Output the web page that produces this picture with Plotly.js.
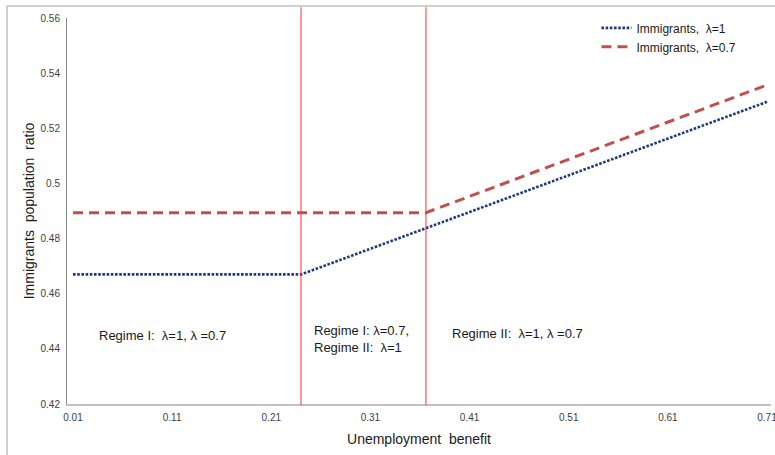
<!DOCTYPE html>
<html>
<head>
<meta charset="utf-8">
<script src="https://cdn.plot.ly/plotly-3.0.1.min.js"></script>
<style>html,body{margin:0;padding:0;background:#fff;}#chart{width:775px;height:455px;}</style>
</head>
<body>
<div id="chart"></div>
<script>
// Data
const blueX = [0.01, 0.24, 0.31, 0.41, 0.51, 0.61, 0.71];
const blueY = [0.467, 0.467, 0.4763, 0.4896, 0.5029, 0.5162, 0.5296];
const redX = [0.01, 0.366, 0.41, 0.51, 0.61, 0.71];
const redY = [0.4894, 0.4894, 0.4953, 0.5088, 0.5222, 0.5357];
const regimeLines = [0.24, 0.366];
const xTickVals = [0.01, 0.11, 0.21, 0.31, 0.41, 0.51, 0.61, 0.71];
const xTickText = ['0.01', '0.11', '0.21', '0.31', '0.41', '0.51', '0.61', '0.71'];
const seriesNames = ['Immigrants,\u00a0 \u03bb=1', 'Immigrants,\u00a0 \u03bb=0.7'];
const regimeLabels = [
  {x: 0.0345, y: 0.4447, text: 'Regime I:\u00a0 \u03bb=1, \u03bb =0.7'},
  {x: 0.2515, y: 0.4436, text: 'Regime I: \u03bb=0.7,<br>Regime II:\u00a0 \u03bb=1'},
  {x: 0.3905, y: 0.4454, text: 'Regime II:\u00a0 \u03bb=1, \u03bb =0.7'}
];

const FONT = 'Arial, "Liberation Sans", sans-serif';

const traces = [
  {x: blueX, y: blueY, name: seriesNames[0], mode: 'lines', type: 'scatter',
   line: {color: '#1f3a7a', width: 2.6, dash: '2.6px,1.6px'}},
  {x: redX, y: redY, name: seriesNames[1], mode: 'lines', type: 'scatter',
   line: {color: '#c0504d', width: 3, dash: '10px,6px'}}
];

const shapes = regimeLines.map(v => ({
  type: 'line', xref: 'x', yref: 'paper', x0: v, x1: v, y0: -0.003, y1: 1.028,
  line: {color: 'rgb(255,50,50)', width: 1}
}));
// outer frame (left and top edges)
shapes.push({type: 'line', xref: 'paper', yref: 'paper', x0: -0.0852, x1: -0.0852, y0: 1.0311, y1: -0.2,
  line: {color: '#a0a0a0', width: 1}});
shapes.push({type: 'line', xref: 'paper', yref: 'paper', x0: -0.0852, x1: 1.05, y0: 1.0311, y1: 1.0311,
  line: {color: '#a0a0a0', width: 1}});

const annotations = regimeLabels.map(r => ({
  x: r.x, y: r.y, xref: 'x', yref: 'y', text: r.text, showarrow: false,
  xanchor: 'left', yanchor: 'middle', align: 'left',
  font: {family: FONT, size: 13, color: '#1a1a1a'}
}));

const layout = {
  width: 775, height: 455,
  margin: {l: 67, r: 4, t: 18, b: 51, pad: 0},
  paper_bgcolor: '#fff', plot_bgcolor: '#fff',
  font: {family: FONT, size: 10, color: '#404040'},
  showlegend: true,
  legend: {x: 0.752, y: 1.012, xanchor: 'left', yanchor: 'top', bgcolor: 'rgba(0,0,0,0)',
    font: {family: FONT, size: 12, color: '#1a1a1a'}, tracegroupgap: 0, itemwidth: 30},
  xaxis: {
    range: [0.00395, 0.71403], tickmode: 'array', tickvals: xTickVals, ticktext: xTickText,
    showgrid: false, zeroline: false, showline: true, linecolor: '#c0c0c0', linewidth: 1.5,
    ticks: '', ticklabeloverflow: 'allow', ticklabelstandoff: 3,
    tickfont: {family: FONT, size: 10, color: '#404040'},
    title: {text: 'Unemployment\u00a0 benefit', font: {family: FONT, size: 14, color: '#1a1a1a'}, standoff: 12}
  },
  yaxis: {
    range: [0.42, 0.56], tickmode: 'linear', tick0: 0.42, dtick: 0.02,
    showgrid: false, zeroline: false, showline: true, linecolor: '#888', linewidth: 1,
    ticks: '', ticklen: 0, ticklabelstandoff: 4, ticklabeloverflow: 'allow',
    tickfont: {family: FONT, size: 10, color: '#404040'},
    title: {text: 'Immigrants\u00a0 population\u00a0 ratio', font: {family: FONT, size: 14, color: '#1a1a1a'}, standoff: 2}
  },
  shapes: shapes,
  annotations: annotations
};

Plotly.newPlot('chart', traces, layout, {displayModeBar: false, staticPlot: true});
</script>
</body>
</html>
